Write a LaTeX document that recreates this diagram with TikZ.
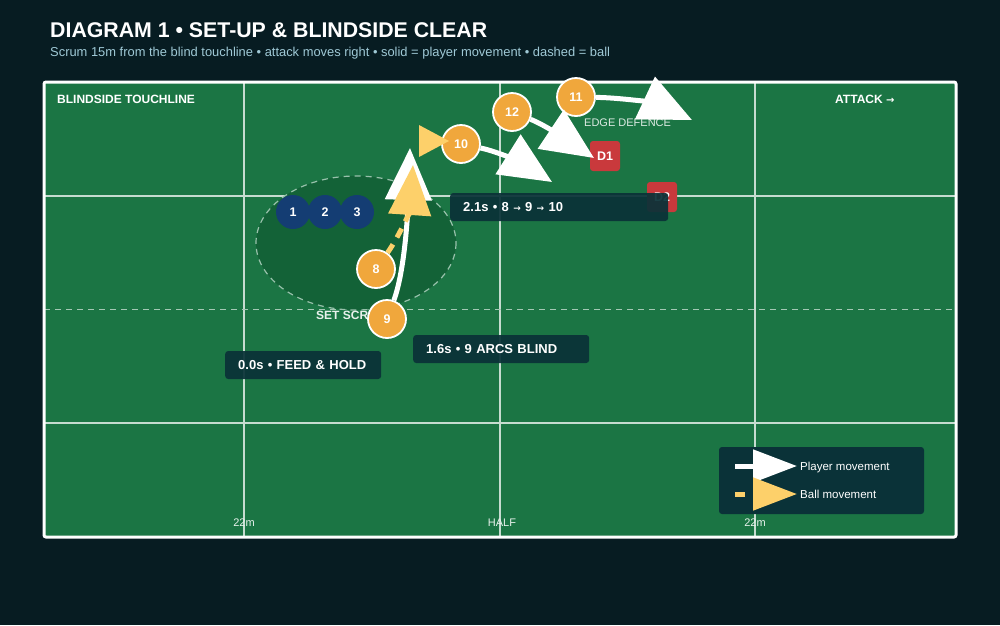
\documentclass[tikz,border=0pt]{standalone}
\usepackage{fontspec}
\setmainfont{Liberation Sans}
\newfontfamily\dv{DejaVu Sans}
\usetikzlibrary{arrows.meta}
\definecolor{bg}{HTML}{071C22}
\definecolor{field}{HTML}{1B7544}
\definecolor{scrum}{HTML}{136237}
\definecolor{navy}{HTML}{143D73}
\definecolor{orng}{HTML}{F0A73C}
\definecolor{dred}{HTML}{C9393C}
\definecolor{boxc}{HTML}{0A3238}
\definecolor{ball}{HTML}{FDD06A}
\definecolor{sub}{HTML}{9FC9D6}
\begin{document}
\begin{tikzpicture}[x=1pt,y=-1pt,
  grid/.style={draw=white!75!field,line width=1.5pt},
  att/.style={circle,fill=navy,minimum size=34pt,inner sep=0,text=white,font=\bfseries\fontsize{12.5}{12}\selectfont},
  pl/.style={circle,fill=orng,draw=white,line width=1.8pt,minimum size=38pt,inner sep=0,text=white,font=\bfseries\fontsize{12.5}{12}\selectfont},
  def/.style={fill=dred,rounded corners=3pt,minimum size=30pt,inner sep=0,text=white,font=\bfseries\fontsize{12.5}{12}\selectfont},
  lbl/.style={fill=boxc,fill opacity=0.93,text opacity=1,rounded corners=3pt,text=white,anchor=west,inner xsep=13pt,align=left,font=\bfseries\fontsize{13}{14}\selectfont},
  mv/.style={draw=white,line width=5pt,-{Triangle[length=52pt,width=46pt]}},
  bl/.style={draw=ball,line width=5pt,dash pattern=on 10pt off 8pt,-{Triangle[length=50pt,width=42pt]}},
  small/.style={text=white!90!field,font=\fontsize{11}{11}\selectfont}]
\useasboundingbox (0,0) rectangle (1000,625);
\fill[bg] (0,0) rectangle (1000,625);
\node[anchor=west,text=white,font=\bfseries\fontsize{21.3}{24}\selectfont,inner sep=0] (title) at (50,30) {DIAGRAM 1 • SET-UP \& BLINDSIDE CLEAR};
\node[anchor=west,text=sub,font=\fontsize{12.9}{15}\selectfont,inner sep=0] (subt) at (50,53) {Scrum 15m from the blind touchline • attack moves right • solid = player movement • dashed = ball};
\fill[field] (44,82) rectangle (956,537);
\foreach \x in {244,500,755} \draw[grid] (\x,82) -- (\x,537);
\foreach \y in {196,423} \draw[grid] (44,\y) -- (956,\y);
\draw[white!60!field,line width=1pt,dash pattern=on 6pt off 5pt] (44,309) -- (956,309);
\draw[white,line width=3pt,rounded corners=2pt] (44,82) rectangle (956,537);
\filldraw[fill=scrum,draw=white!55!field,line width=1.2pt,dash pattern=on 6pt off 5pt] (356,243) ellipse [x radius=100,y radius=67];
\node[anchor=west,text=white,font=\bfseries\fontsize{12}{13}\selectfont,inner sep=0] (blind) at (57,99) {BLINDSIDE TOUCHLINE};
\node[anchor=west,text=white,font=\bfseries\fontsize{12}{13}\selectfont,inner sep=0] (attack) at (835,99) {ATTACK {\dv\fontsize{10}{10}\selectfont →}};
\node[anchor=west,text=white!85!field,font=\fontsize{11}{12}\selectfont,inner sep=0] (edge) at (584,123) {EDGE DEFENCE};
\node[anchor=west,text=white!90!field,font=\bfseries\fontsize{12}{12}\selectfont,inner sep=0] (setscrum) at (316,315) {SET SCRUM};
\node[small] (l22a) at (244,523) {22m};
\node[small] (lhalf) at (502,523) {HALF};
\node[small] (l22b) at (755,523) {22m};
\node[att] (p1) at (293,212) {1};
\node[att] (p2) at (325,212) {2};
\node[att] (p3) at (357,212) {3};
\node[def] (d2) at (662,197) {D2};
\node[def] (d1) at (605,156) {D1};
\node[lbl,text width=192pt,minimum height=28pt] (b21) at (450,207) {2.1s • 8 {\dv\fontsize{9}{9}\selectfont →} 9 {\dv\fontsize{9}{9}\selectfont →} 10};
\node[lbl,text width=150pt,minimum height=28pt] (b16) at (413,349) {1.6s • 9 ARCS BLIND};
\node[lbl,text width=130pt,minimum height=28pt] (b00) at (225,365) {0.0s • FEED \& HOLD};
\node[pl] (p8) at (376,269) {8};
\node[pl] (p9) at (387,319) {9};
\node[pl] (p10) at (461,144) {10};
\node[pl] (p12) at (512,112) {12};
\node[pl] (p11) at (576,97) {11};
\coordinate (t9) at (410,148);
\coordinate (t8) at (413,165);
\coordinate (t10) at (552,182);
\coordinate (t12) at (594,158);
\coordinate (t11) at (692,120);
\draw[mv] (p9) .. controls (405,270) and (408,210) .. (t9);
\draw[bl] (p8) .. controls (400,235) and (410,210) .. (t8);
\fill[ball] (419,125) -- (449,141) -- (419,157) -- cycle;
\draw[mv] (p10) .. controls (500,152) and (525,165) .. (t10);
\draw[mv] (p12) .. controls (545,125) and (570,142) .. (t12);
\draw[mv] (p11) .. controls (630,98) and (660,105) .. (t11);
\fill[boxc] (719,447) [rounded corners=3pt] rectangle (924,514);
\coordinate (la) at (735,466); \coordinate (lb) at (797,466);
\coordinate (lc) at (735,494); \coordinate (ld) at (797,494);
\draw[mv,-{Triangle[length=44pt,width=32pt]}] (la) -- (lb);
\draw[bl,-{Triangle[length=44pt,width=32pt]}] (lc) -- (ld);
\node[anchor=west,text=white,font=\fontsize{11.5}{12}\selectfont,inner sep=0] (lg1) at (800,468) {Player movement};
\node[anchor=west,text=white,font=\fontsize{11.5}{12}\selectfont,inner sep=0] (lg2) at (800,494) {Ball movement};
\end{tikzpicture}
\end{document}
